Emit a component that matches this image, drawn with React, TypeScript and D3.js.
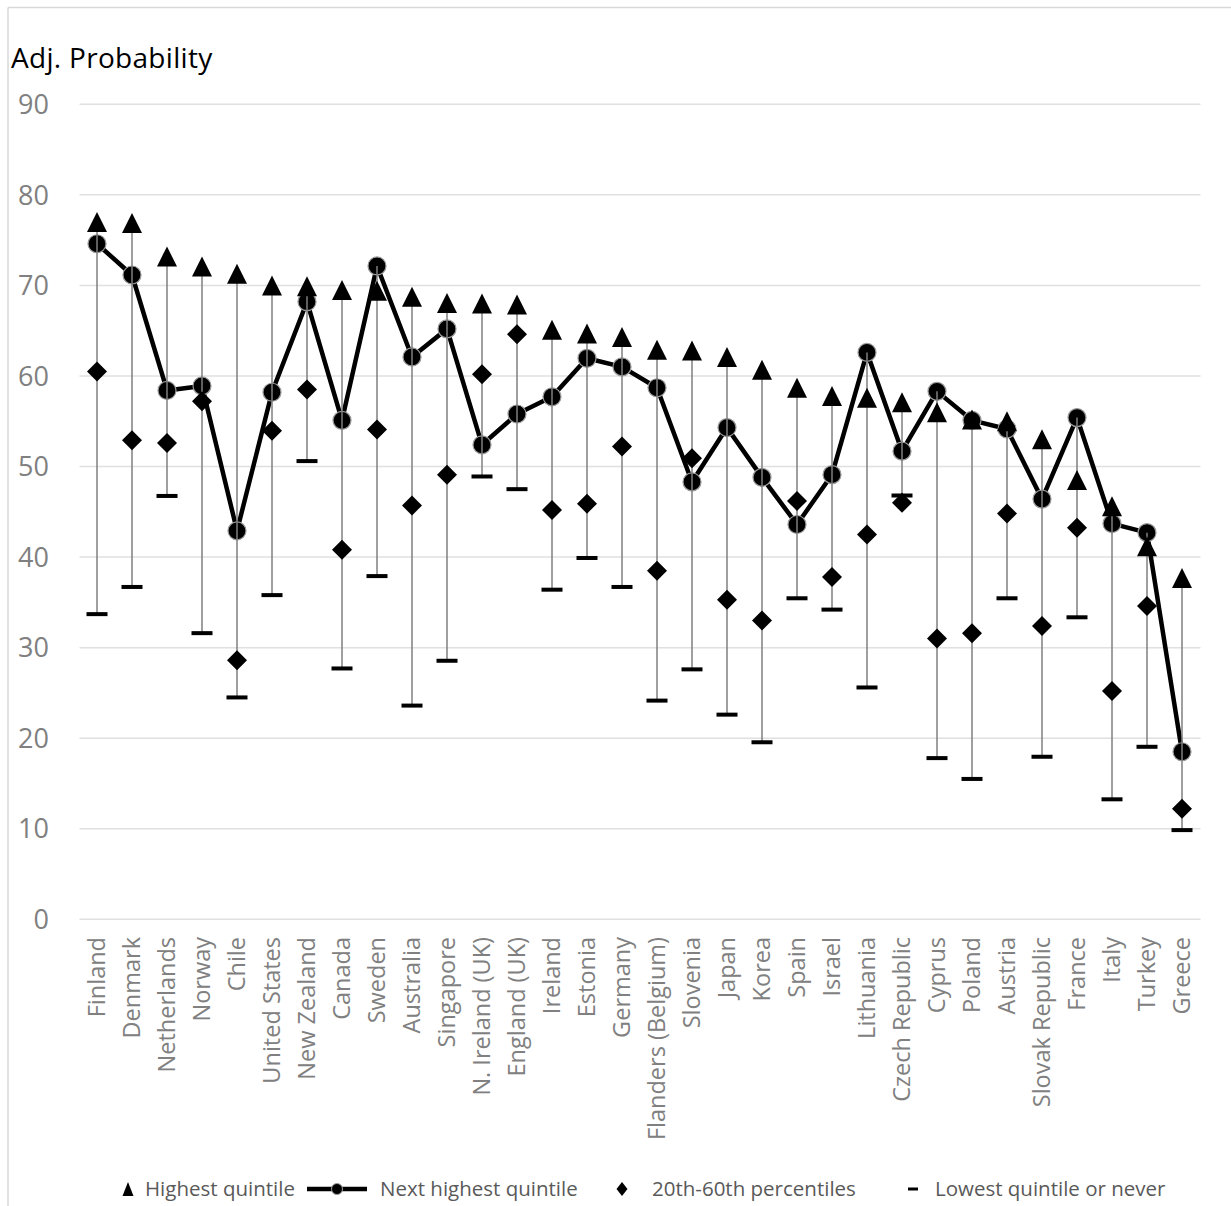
import React from "react";
import * as d3 from "d3";

const categories = [
  "Finland", "Denmark", "Netherlands", "Norway", "Chile", "United States", "New Zealand", "Canada",
  "Sweden", "Australia", "Singapore", "N. Ireland (UK)", "England (UK)", "Ireland", "Estonia", "Germany",
  "Flanders (Belgium)", "Slovenia", "Japan", "Korea", "Spain", "Israel", "Lithuania", "Czech Republic",
  "Cyprus", "Poland", "Austria", "Slovak Republic", "France", "Italy", "Turkey", "Greece",
];

const highestQuintile = [
  77.0, 76.9, 73.2, 72.1, 71.3, 70.0, 69.9, 69.5, 69.4, 68.75, 68.05, 68.0, 67.9, 65.1, 64.7, 64.3,
  62.9, 62.8, 62.1, 60.7, 58.7, 57.8, 57.6, 57.1, 56.0, 55.2, 55.0, 53.0, 48.5, 45.6, 41.2, 37.7,
];

const nextHighestQuintile = [
  74.6, 71.15, 58.4, 58.9, 42.9, 58.2, 68.2, 55.1, 72.15, 62.1, 65.2, 52.4, 55.8, 57.7, 61.95, 61.0,
  58.7, 48.3, 54.3, 48.8, 43.6, 49.1, 62.6, 51.7, 58.3, 55.1, 54.15, 46.4, 55.4, 43.7, 42.7, 18.5,
];

const percentiles20to60 = [
  60.5, 52.9, 52.6, 57.2, 28.6, 53.95, 58.5, 40.8, 54.1, 45.7, 49.1, 60.2, 64.6, 45.2, 45.9, 52.2,
  38.5, 50.9, 35.3, 33.0, 46.2, 37.8, 42.5, 46.0, 31.0, 31.6, 44.8, 32.4, 43.25, 25.2, 34.6, 12.2,
];

const lowestQuintile = [
  33.7, 36.7, 46.75, 31.6, 24.5, 35.8, 50.6, 27.7, 37.9, 23.6, 28.55, 48.9, 47.5, 36.4, 39.9, 36.7,
  24.15, 27.6, 22.6, 19.55, 35.45, 34.2, 25.6, 46.8, 17.8, 15.5, 35.45, 17.95, 33.35, 13.25, 19.05, 9.85,
];

const yTicks = [0, 10, 20, 30, 40, 50, 60, 70, 80, 90];

const legendLabels = ["Highest quintile", "Next highest quintile", "20th-60th percentiles", "Lowest quintile or never"];

const FONT = "'Open Sans', 'Noto Sans', sans-serif";

export default function App() {
  const W = 1231;
  const H = 1206;
  const x = d3.scaleBand<string>().domain(categories).range([79.5, 1199.5]);
  const y = d3.scaleLinear().domain([0, 90]).range([919.3, 104.3]);
  const cx = (c: string) => (x(c) as number) + x.bandwidth() / 2;

  const lineGen = d3
    .line<number>()
    .x((_, i) => cx(categories[i]))
    .y((d) => y(d));

  const tri = (px: number, py: number, w: number, h: number) =>
    `M${px},${py - h / 2}L${px + w / 2},${py + h / 2}L${px - w / 2},${py + h / 2}Z`;
  const dia = (px: number, py: number, w: number, h: number) =>
    `M${px},${py - h / 2}L${px + w / 2},${py}L${px},${py + h / 2}L${px - w / 2},${py}Z`;

  const legY = 1189;
  const legFS = 20.5;

  return (
    <svg
      width={W}
      height={H}
      style={{ position: "absolute", left: 0, top: 0, background: "#fff" }}
      fontFamily={FONT}
    >
      <rect x={0} y={0} width={W} height={H} fill="#fff" />
      {/* chart border */}
      <line x1={8} y1={7.5} x2={W} y2={7.5} stroke="#d9d9d9" strokeWidth={1.5} />
      <line x1={8} y1={7.5} x2={8} y2={H} stroke="#d9d9d9" strokeWidth={1.5} />

      <text x={11} y={68} fontSize={28} fill="#000" letterSpacing={0.3}>Adj. Probability</text>

      {/* gridlines + y ticks */}
      {yTicks.map((t) => (
        <g key={t}>
          <line x1={79.5} x2={1200.5} y1={y(t)} y2={y(t)} stroke="#e0e0e0" strokeWidth={1.5} />
          <text x={49} y={y(t)} dy="0.36em" textAnchor="end" fontSize={27} fill="#808080">
            {t}
          </text>
        </g>
      ))}

      {/* x labels */}
      {categories.map((c) => (
        <text
          key={c}
          transform={`translate(${cx(c)},${937}) rotate(-90)`}
          textAnchor="end"
          dy="0.36em"
          fontSize={23.5}
          fill="#808080"
        >
          {c}
        </text>
      ))}

      {/* next highest line */}
      <path d={lineGen(nextHighestQuintile) || ""} fill="none" stroke="#000" strokeWidth={4.5} strokeLinejoin="round" />
      {nextHighestQuintile.map((v, i) => (
        <circle key={"c" + i} cx={cx(categories[i])} cy={y(v)} r={9} fill="#000" stroke="#9a9a9a" strokeWidth={1.2} />
      ))}

      {/* high-low lines */}
      {categories.map((c, i) => {
        const vals = [highestQuintile[i], nextHighestQuintile[i], percentiles20to60[i], lowestQuintile[i]];
        return (
          <line
            key={"hl" + i}
            x1={cx(c)}
            x2={cx(c)}
            y1={y(d3.max(vals) as number)}
            y2={y(d3.min(vals) as number)}
            stroke="#7f7f7f"
            strokeWidth={1.5}
          />
        );
      })}

      {/* highest triangles */}
      {highestQuintile.map((v, i) => (
        <path key={"t" + i} d={tri(cx(categories[i]), y(v), 20, 20)} fill="#000" />
      ))}

      {/* diamonds */}
      {percentiles20to60.map((v, i) => (
        <path key={"d" + i} d={dia(cx(categories[i]), y(v), 20, 20)} fill="#000" />
      ))}

      {/* dashes */}
      {lowestQuintile.map((v, i) => (
        <rect key={"l" + i} x={cx(categories[i]) - 10.5} y={y(v) - 2} width={21} height={4} fill="#000" />
      ))}

      {/* legend */}
      <path d={tri(128, legY, 11, 14)} fill="#000" />
      <text x={145} y={legY} dy="0.36em" fontSize={legFS} fill="#595959">{legendLabels[0]}</text>

      <line x1={307} x2={367} y1={legY} y2={legY} stroke="#000" strokeWidth={4.5} />
      <circle cx={337} cy={legY} r={5.5} fill="#000" stroke="#9a9a9a" strokeWidth={1} />
      <text x={380} y={legY} dy="0.36em" fontSize={legFS} fill="#595959">{legendLabels[1]}</text>

      <path d={dia(622, legY, 11, 14)} fill="#000" />
      <text x={652} y={legY} dy="0.36em" fontSize={legFS} fill="#595959">{legendLabels[2]}</text>

      <rect x={908} y={legY - 1.5} width={10} height={3} fill="#000" />
      <text x={935} y={legY} dy="0.36em" fontSize={legFS} fill="#595959">{legendLabels[3]}</text>
    </svg>
  );
}
